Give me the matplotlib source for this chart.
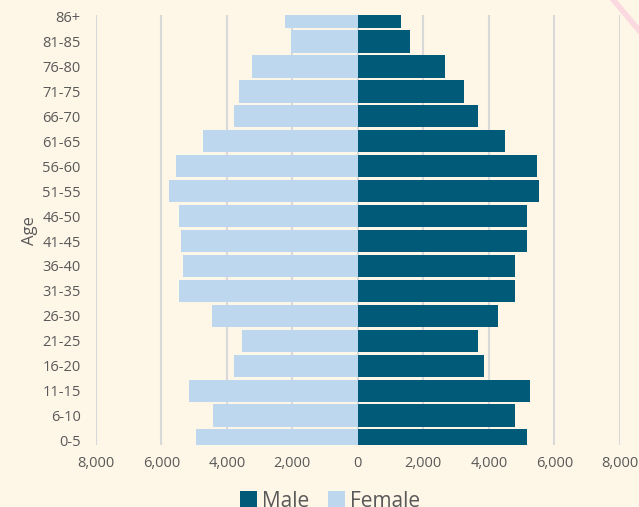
import numpy as np
import matplotlib.pyplot as plt
from matplotlib.ticker import FuncFormatter
from matplotlib.lines import Line2D

plt.rcParams['font.family'] = ['Open Sans', 'DejaVu Sans']

ages = ['0-5', '6-10', '11-15', '16-20', '21-25', '26-30', '31-35', '36-40',
        '41-45', '46-50', '51-55', '56-60', '61-65', '66-70', '71-75',
        '76-80', '81-85', '86+']
male = [5160, 4790, 5250, 3850, 3660, 4270, 4790, 4790,
        5160, 5160, 5530, 5470, 4490, 3660, 3240, 2660, 1590, 1310]
female = [4950, 4430, 5160, 3790, 3540, 4460, 5470, 5340,
          5400, 5470, 5770, 5560, 4730, 3790, 3630, 3240, 2050, 2230]

bg = '#FEF6E7'
male_color = '#005A78'
female_color = '#BDD7EE'
text_color = '#595959'

fig = plt.figure(figsize=(6.39, 5.07), dpi=100, facecolor=bg)
ax = fig.add_axes([0.150, 0.122, 0.820, 0.848], facecolor=bg)

y = np.arange(len(ages))
ax.barh(y, male, height=0.9, color=male_color, label='Male', zorder=3)
ax.barh(y, [-v for v in female], height=0.9, color=female_color, label='Female', zorder=3)

ax.set_xlim(-8000, 8000)
ax.set_ylim(-0.18, 17.05)
ax.set_xticks(np.arange(-8000, 8001, 2000))
ax.xaxis.set_major_formatter(FuncFormatter(lambda v, p: f'{abs(int(v)):,}'))
ax.set_yticks(y)
ax.set_yticklabels(ages)
ax.grid(axis='x', color='#D9D9D9', linewidth=1.5, zorder=0)
ax.tick_params(axis='both', length=0, labelsize=10.5, colors=text_color, pad=8)
ax.tick_params(axis='y', pad=11)
for s in ax.spines.values():
    s.set_visible(False)
ax.set_ylabel('Age', fontsize=12, color=text_color, labelpad=3)

ax.legend(loc='upper center', bbox_to_anchor=(0.447, -0.062), ncol=2, frameon=False,
          fontsize=15, handlelength=0.8, handleheight=0.8, handletextpad=0.25,
          columnspacing=0.9, labelcolor=text_color)

# pink corner decoration
fig.add_artist(Line2D([0.96, 1.0], [1.0, 0.94], transform=fig.transFigure,
                      color='#F9C6DE', linewidth=4, alpha=0.6))

fig.savefig('out.png', dpi=100, facecolor=bg)
